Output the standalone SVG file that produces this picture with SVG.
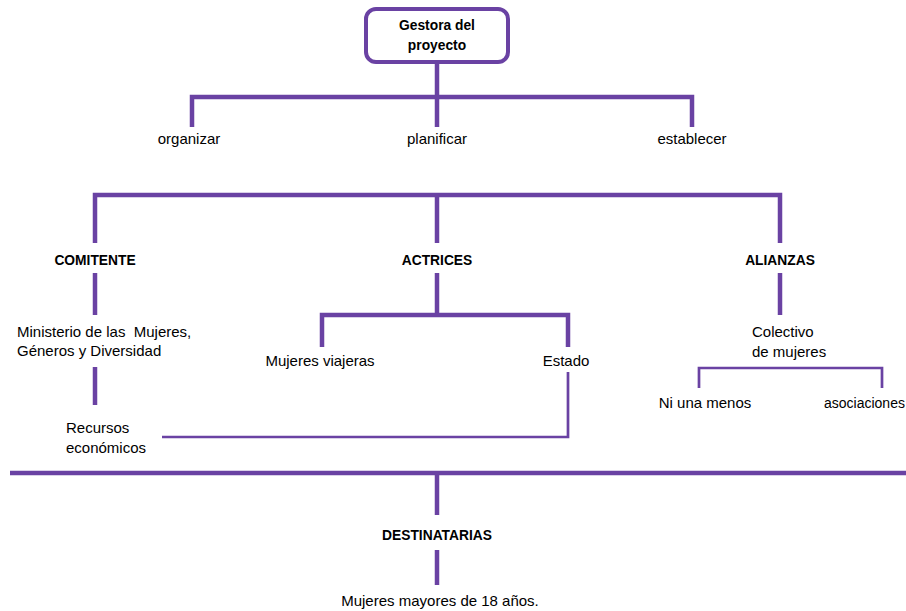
<svg xmlns="http://www.w3.org/2000/svg" width="906" height="611" viewBox="0 0 906 611">
  <style>
    .t { font-family: "Liberation Sans", Arial, sans-serif; font-size: 15px; fill: #000; }
    .b { font-family: "Liberation Sans", Arial, sans-serif; font-size: 13.8px; font-weight: bold; fill: #000; }
    .thick { fill: none; stroke: #6a42a3; stroke-width: 4.5; stroke-linejoin: miter; }
    .thin { fill: none; stroke: #6a42a3; stroke-width: 2.7; }
  </style>
  <rect width="906" height="611" fill="#fff"/>

  <g id="connectors">
    <!-- top bracket -->
    <path class="thick" d="M437 62 V97"/>
    <path class="thick" d="M192 127 V97 H692 V127"/>
    <path class="thick" d="M437 97 V127"/>
    <!-- second bracket -->
    <path class="thick" d="M95 243 V195 H780 V243"/>
    <path class="thick" d="M437 195 V243"/>
    <!-- comitente chain -->
    <path class="thick" d="M95 273 V315"/>
    <path class="thick" d="M95 367 V405"/>
    <!-- actrices -->
    <path class="thick" d="M437 273 V315"/>
    <path class="thick" d="M322 347 V315 H568 V347"/>
    <!-- estado to recursos -->
    <path class="thin" d="M568 372 V437 H162"/>
    <!-- alianzas -->
    <path class="thick" d="M780 273 V315"/>
    <path class="thin" d="M699 388 V368 H882 V388"/>
    <!-- bottom -->
    <path class="thick" d="M10 473 H906"/>
    <path class="thick" d="M437 473 V515"/>
    <path class="thick" d="M437 550 V585"/>
  </g>

  <g id="gestora">
    <rect x="366" y="9" width="142" height="53" rx="10" fill="#fff" stroke="#6a42a3" stroke-width="4"/>
    <text class="b" x="437" y="30" text-anchor="middle">Gestora del</text>
    <text class="b" x="437" y="50" text-anchor="middle">proyecto</text>
  </g>
  <g id="organizar"><text class="t" x="189" y="144" text-anchor="middle">organizar</text></g>
  <g id="planificar"><text class="t" x="437" y="144" text-anchor="middle">planificar</text></g>
  <g id="establecer"><text class="t" x="692" y="144" text-anchor="middle">establecer</text></g>

  <g id="comitente"><text class="b" x="95" y="265" text-anchor="middle">COMITENTE</text></g>
  <g id="actrices"><text class="b" x="437" y="265" text-anchor="middle">ACTRICES</text></g>
  <g id="alianzas"><text class="b" x="780" y="265" text-anchor="middle">ALIANZAS</text></g>

  <g id="ministerio">
    <text class="t" x="17" y="337" xml:space="preserve">Ministerio de las  Mujeres,</text>
    <text class="t" x="17" y="356">Géneros y Diversidad</text>
  </g>
  <g id="recursos">
    <text class="t" x="66" y="433">Recursos</text>
    <text class="t" x="66" y="453">económicos</text>
  </g>
  <g id="viajeras"><text class="t" x="320" y="366" text-anchor="middle">Mujeres viajeras</text></g>
  <g id="estado"><text class="t" x="566" y="366" text-anchor="middle">Estado</text></g>

  <g id="colectivo">
    <text class="t" x="752" y="337">Colectivo</text>
    <text class="t" x="752" y="357">de mujeres</text>
  </g>
  <g id="niunamenos"><text class="t" x="705" y="408" text-anchor="middle">Ni una menos</text></g>
  <g id="asociaciones"><text class="t" x="824" y="408" style="font-size:14px">asociaciones</text></g>

  <g id="destinatarias"><text class="b" x="437" y="540" text-anchor="middle">DESTINATARIAS</text></g>
  <g id="mayores"><text class="t" x="440" y="606" text-anchor="middle">Mujeres mayores de 18 años.</text></g>
</svg>
